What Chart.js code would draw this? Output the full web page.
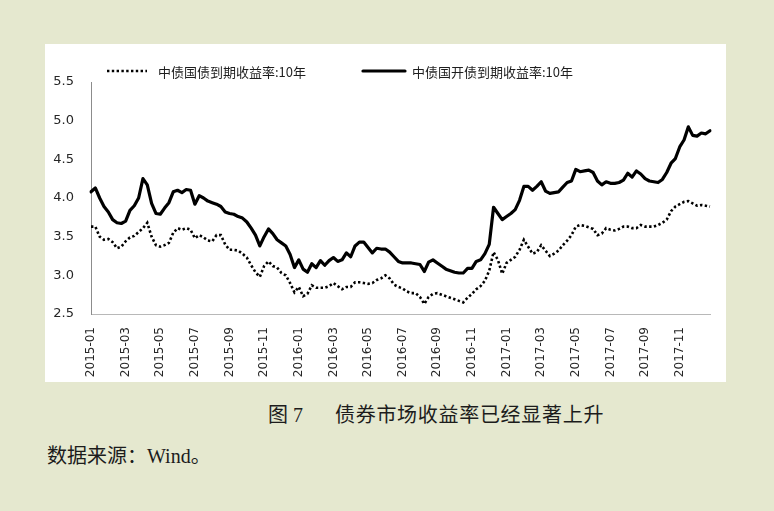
<!DOCTYPE html>
<html>
<head>
<meta charset="utf-8">
<script src="https://cdn.jsdelivr.net/npm/chart.js@4/dist/chart.umd.min.js"></script>
<style>
  html, body { margin: 0; padding: 0; }
  body { width: 774px; height: 511px; background: #e5e8cf; position: relative; overflow: hidden; }
  #panel { position: absolute; left: 45px; top: 44px; width: 681px; height: 338px; background: #ffffff; }
  canvas { display: block; }
  .cap { position: absolute; font-family: "Liberation Serif", "Noto Sans CJK SC", serif; color: #1c1c1c; font-size: 20px; line-height: 24px; white-space: nowrap; }
</style>
</head>
<body>
<div id="panel"><canvas id="c" width="681" height="338" style="width:681px;height:338px"></canvas></div>
<div class="cap" style="left:268px; top:403px;">图 7</div>
<div class="cap" style="left:335px; top:403px; letter-spacing:0.7px;">债券市场收益率已经显著上升</div>
<div class="cap" style="left:47px; top:444px;">数据来源：Wind。</div>
<script>
// Months on the category axis (each month sampled 4 times)
const months = [
  '2015-01','2015-02','2015-03','2015-04','2015-05','2015-06','2015-07','2015-08','2015-09','2015-10','2015-11','2015-12',
  '2016-01','2016-02','2016-03','2016-04','2016-05','2016-06','2016-07','2016-08','2016-09','2016-10','2016-11','2016-12',
  '2017-01','2017-02','2017-03','2017-04','2017-05','2017-06','2017-07','2017-08','2017-09','2017-10','2017-11','2017-12'
];
const samplesPerMonth = 4;

const seriesNames = ['中债国债到期收益率:10年', '中债国开债到期收益率:10年'];

// 中债国债到期收益率:10年 (dotted)
const cgb10 = [
  3.63,3.63,3.50,3.46, 3.47,3.43,3.35,3.37, 3.44,3.49,3.51,3.56,
  3.61,3.68,3.50,3.39, 3.37,3.39,3.42,3.55, 3.61,3.59,3.61,3.59,
  3.48,3.52,3.49,3.45, 3.44,3.52,3.52,3.40, 3.33,3.33,3.32,3.28,
  3.23,3.13,3.04,2.98, 3.12,3.18,3.12,3.10, 3.03,3.00,2.90,2.78,
  2.85,2.73,2.76,2.87, 2.84,2.84,2.84,2.86, 2.90,2.86,2.82,2.85,
  2.85,2.91,2.91,2.90, 2.89,2.90,2.94,2.96, 3.00,2.96,2.88,2.85,
  2.83,2.79,2.77,2.77, 2.72,2.63,2.72,2.76, 2.77,2.75,2.73,2.71,
  2.69,2.67,2.65,2.71, 2.76,2.82,2.86,2.93, 3.06,3.30,3.20,3.02,
  3.16,3.20,3.24,3.33, 3.46,3.37,3.28,3.30, 3.39,3.32,3.25,3.28,
  3.32,3.39,3.45,3.52, 3.63,3.65,3.64,3.62, 3.60,3.52,3.54,3.61,
  3.59,3.58,3.60,3.63, 3.63,3.61,3.61,3.65, 3.63,3.63,3.63,3.65,
  3.68,3.72,3.83,3.89, 3.92,3.95,3.96,3.93, 3.90,3.91,3.90,3.89
];

// 中债国开债到期收益率:10年 (solid)
const cdb10 = [
  4.08,4.13,4.00,3.89, 3.82,3.72,3.68,3.67, 3.70,3.84,3.90,4.00,
  4.25,4.17,3.93,3.80, 3.79,3.87,3.94,4.08, 4.10,4.07,4.11,4.10,
  3.92,4.03,4.00,3.96, 3.94,3.92,3.89,3.82, 3.80,3.79,3.76,3.74,
  3.69,3.61,3.52,3.38, 3.50,3.60,3.54,3.46, 3.42,3.38,3.27,3.10,
  3.20,3.08,3.04,3.15, 3.10,3.19,3.13,3.19, 3.23,3.18,3.20,3.29,
  3.24,3.38,3.43,3.43, 3.36,3.29,3.35,3.34, 3.34,3.30,3.24,3.18,
  3.16,3.16,3.16,3.15, 3.14,3.05,3.17,3.20, 3.16,3.12,3.08,3.06,
  3.04,3.03,3.03,3.09, 3.09,3.18,3.20,3.28, 3.40,3.88,3.80,3.72,
  3.76,3.80,3.85,3.97, 4.15,4.15,4.10,4.15, 4.21,4.09,4.06,4.07,
  4.08,4.14,4.20,4.22, 4.37,4.34,4.35,4.36, 4.33,4.22,4.17,4.21,
  4.19,4.19,4.20,4.23, 4.32,4.27,4.35,4.31, 4.25,4.22,4.21,4.20,
  4.24,4.33,4.45,4.51, 4.66,4.75,4.92,4.81, 4.80,4.84,4.83,4.87
];

const yTicks = [2.5, 3.0, 3.5, 4.0, 4.5, 5.0, 5.5];

// category labels built from the months list
const labels = [];
months.forEach(m => { for (let k = 0; k < samplesPerMonth; k++) labels.push(m); });

const legendPlugin = {
  id: 'lineLegend',
  afterDraw(chart) {
    const ctx = chart.ctx;
    const ca = chart.chartArea;
    const y = ca.top - 11;
    const items = [
      { ds: 0, x0: ca.left + 16, len: 40, gap: 11 },
      { ds: 1, x0: ca.left + 272, len: 42, gap: 7 }
    ];
    ctx.save();
    items.forEach(it => {
      const ds = chart.data.datasets[it.ds];
      ctx.beginPath();
      ctx.setLineDash(ds.borderDash || []);
      ctx.lineWidth = ds.borderWidth;
      ctx.strokeStyle = ds.borderColor;
      ctx.lineCap = ds.borderCapStyle || 'butt';
      ctx.moveTo(it.x0, y);
      ctx.lineTo(it.x0 + it.len, y);
      ctx.stroke();
      ctx.setLineDash([]);
      ctx.fillStyle = '#1e1e1e';
      ctx.font = '13px "Noto Sans CJK SC", sans-serif';
      ctx.textBaseline = 'middle';
      ctx.textAlign = 'left';
      ctx.fillText(ds.label, it.x0 + it.len + it.gap, y + 1);
    });
    ctx.restore();
  }
};

new Chart(document.getElementById('c'), {
  type: 'line',
  data: {
    labels: labels,
    datasets: [
      {
        label: seriesNames[0],
        data: cgb10,
        borderColor: '#000000',
        borderWidth: 2.6,
        borderDash: [2.4, 2.4],
        borderCapStyle: 'butt',
        pointRadius: 0,
        tension: 0,
        fill: false
      },
      {
        label: seriesNames[1],
        data: cdb10,
        borderColor: '#000000',
        borderWidth: 3.2,
        borderJoinStyle: 'round',
        borderCapStyle: 'round',
        pointRadius: 0,
        tension: 0,
        fill: false
      }
    ]
  },
  options: {
    responsive: false,
    animation: false,
    devicePixelRatio: 1,
    layout: { padding: { top: 38, right: 16, left: 0, bottom: 0 } },
    plugins: { legend: { display: false }, tooltip: { enabled: false } },
    scales: {
      x: {
        type: 'category',
        offset: false,
        grid: { display: false, drawTicks: false },
        border: { display: true, color: '#b8b8b8', width: 1 },
        ticks: {
          autoSkip: false,
          minRotation: 90,
          maxRotation: 90,
          padding: 13,
          labelOffset: 0,
          color: '#262626',
          font: { family: 'DejaVu Sans', size: 12 },
          callback: function (value, index) {
            return index % (2 * samplesPerMonth) === 0 ? labels[index] : '';
          }
        },
        afterFit: s => { s.height = 68; s.paddingLeft = 0; s.paddingRight = 0; }
      },
      y: {
        min: yTicks[0],
        max: yTicks[yTicks.length - 1],
        grid: { display: false, drawTicks: false },
        border: { display: true, color: '#8c8c8c', width: 1 },
        afterBuildTicks: s => { s.ticks = yTicks.map(v => ({ value: v })); },
        ticks: {
          padding: 17,
          color: '#262626',
          font: { family: 'DejaVu Sans', size: 13 },
          callback: v => Number(v).toFixed(1)
        },
        afterFit: s => { s.width = 46; s.paddingTop = 0; s.paddingBottom = 0; }
      }
    }
  },
  plugins: [legendPlugin]
});
</script>
</body>
</html>
